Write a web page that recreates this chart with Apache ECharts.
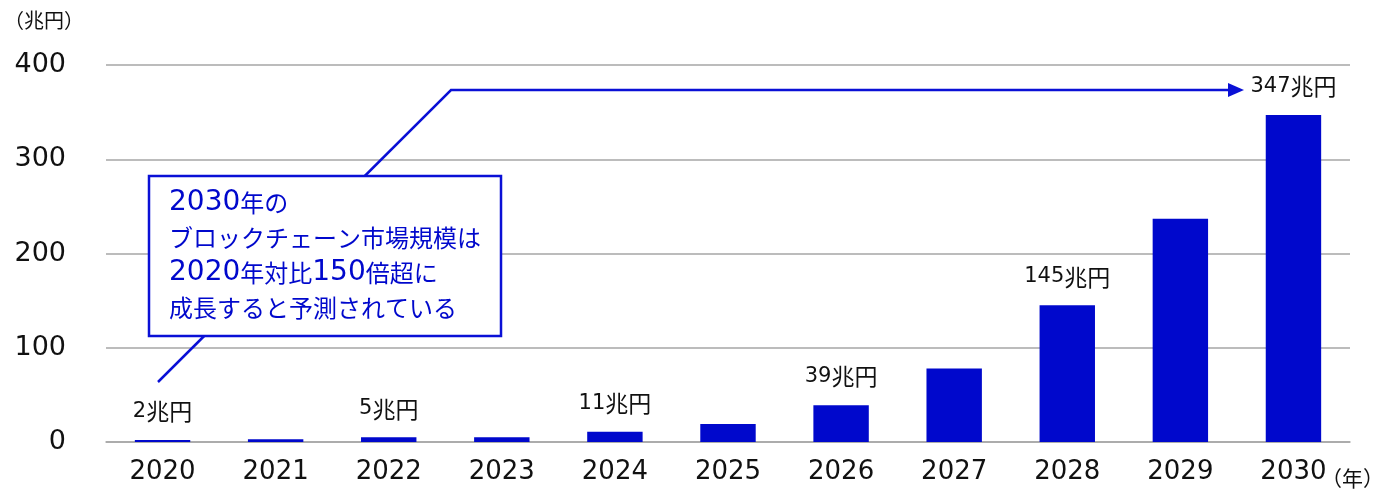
<!DOCTYPE html>
<html><head><meta charset="utf-8">
<script src="https://cdn.jsdelivr.net/npm/echarts@6/dist/echarts.min.js"></script>
<style>html,body{margin:0;padding:0;background:#fff}#c{width:1384px;height:494px}</style>
</head><body><div id="c"></div>
<script>
var years = ['2020','2021','2022','2023','2024','2025','2026','2027','2028','2029','2030'];
var values = [2, 3, 5, 5, 11, 19, 39, 78, 145, 237, 347];
var labeledYears = ['2020','2022','2024','2026','2028','2030'];
var yTicks = [0, 100, 200, 300, 400];
var unitLabel = '（兆円）';
var yearUnit = '（年）';
var noteLines = ['2030年の', 'ブロックチェーン市場規模は', '2020年対比150倍超に', '成長すると予測されている'];

var FONT = "'DejaVu Sans','Noto Sans CJK JP',sans-serif";
var BLUE = '#0008CC';
var LINEBLUE = '#0A10D6';

function richLine(s){
  return s.replace(/([0-9]+)|([^0-9]+)/g, function(m, d, k){
    return d ? '{d|' + d + '}' : '{k|' + k + '}';
  });
}

var chart = echarts.init(document.getElementById('c'));
var barData = values.map(function(v, i){
  var show = labeledYears.indexOf(years[i]) >= 0;
  return {value: v, label: {show: show}};
});

chart.setOption({
  animation: false,
  textStyle: {fontFamily: FONT},
  grid: {left: 106, right: 34, top: 65, bottom: 52},
  xAxis: {
    type: 'category', data: years,
    axisLine: {show: true, lineStyle: {color: '#a6a6a6', width: 1.5}},
    axisTick: {show: false},
    axisLabel: {color: '#111', fontSize: 26, fontFamily: FONT, margin: 17}
  },
  yAxis: {
    type: 'value', min: yTicks[0], max: yTicks[yTicks.length-1], interval: 100,
    axisLine: {show: false}, axisTick: {show: false},
    splitLine: {lineStyle: {color: '#a6a6a6', width: 1.5}},
    axisLabel: {color: '#111', fontSize: 27, fontFamily: FONT, margin: 40}
  },
  series: [{
    type: 'bar', data: barData, barWidth: '49%',
    itemStyle: {color: BLUE},
    label: {show: false, position: 'top', distance: 17, color: '#111',
      formatter: function(p){ return '{d|' + p.value + '}{k|兆円}'; },
      rich: {
        d: {fontSize: 21, fontFamily: "'DejaVu Sans'", color: '#111'},
        k: {fontSize: 23, fontFamily: "'Noto Sans CJK JP'", color: '#111'}
      }}
  }],
  graphic: [
    {type: 'text', left: 4, top: 10, style: {text: unitLabel, fontSize: 20, fill: '#111', fontFamily: "'Noto Sans CJK JP'"}},
    {type: 'text', right: 0, top: 468, style: {text: yearUnit, fontSize: 21, fill: '#111', fontFamily: "'Noto Sans CJK JP'"}},
    {type: 'polyline', z: 10, shape: {points: [[158,382],[451,90],[1230,90]]}, style: {stroke: LINEBLUE, lineWidth: 2.5, fill: null}},
    {type: 'polygon', z: 10, shape: {points: [[1228,83],[1244,90],[1228,97]]}, style: {fill: LINEBLUE}},
    {type: 'rect', z: 11, shape: {x: 149, y: 176, width: 352, height: 160}, style: {fill: '#fff', stroke: LINEBLUE, lineWidth: 2.5}},
    {type: 'text', z: 12, left: 169, top: 185, style: {
      text: noteLines.map(richLine).join('\n'),
      fill: BLUE, lineHeight: 35,
      rich: {
        d: {fontSize: 28, fontFamily: "'DejaVu Sans'", fill: BLUE, lineHeight: 35},
        k: {fontSize: 24, fontFamily: "'Noto Sans CJK JP'", fill: BLUE, lineHeight: 35}
      }
    }}
  ]
});
</script></body></html>
